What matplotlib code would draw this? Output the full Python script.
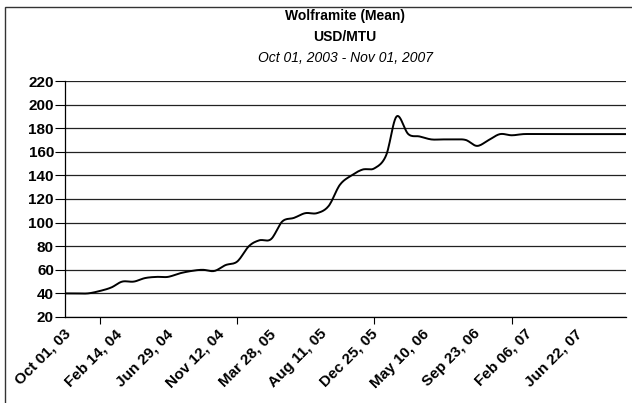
import datetime as dt
import numpy as np
import matplotlib
matplotlib.use("Agg")
import matplotlib.pyplot as plt
import matplotlib.dates as mdates
import matplotlib.transforms as mtransforms
from matplotlib.patches import Rectangle

plt.rcParams['font.family'] = ['Liberation Sans', 'DejaVu Sans']

# monthly mean price, Oct 2003 .. Nov 2007 (USD/MTU)
months = [dt.date(2003 + (9 + i) // 12, (9 + i) % 12 + 1, 1) for i in range(50)]
prices = [40, 40, 40, 42, 45, 50, 50, 53, 54, 54,
          57, 59, 60, 59, 64, 67, 80, 85, 86, 101,
          104, 108, 108, 114, 132, 140, 145, 146, 157, 190,
          175, 173, 170.5, 170.5, 170.5, 170, 165, 170, 175, 174,
          175, 175, 175, 175, 175, 175, 175, 175, 175, 175]

label_dates = [dt.date(2003, 10, 1) + dt.timedelta(days=136 * k) for k in range(11)]
year_ticks = [dt.date(y, 1, 1) for y in (2004, 2005, 2006, 2007)]
y_ticks = list(range(20, 221, 20))


# smooth line through the points (catmull-rom, like a spreadsheet "smoothed line")
def smooth(x, y, n=12):
    x = np.asarray(x, float)
    y = np.asarray(y, float)
    px = np.concatenate([[x[0]], x, [x[-1]]])
    py = np.concatenate([[y[0]], y, [y[-1]]])
    xs, ys = [], []
    t = np.linspace(0, 1, n, endpoint=False)
    for i in range(1, len(px) - 2):
        for p, out in ((px, xs), (py, ys)):
            p0, p1, p2, p3 = p[i - 1], p[i], p[i + 1], p[i + 2]
            out.append(0.5 * (2 * p1 + (-p0 + p2) * t
                              + (2 * p0 - 5 * p1 + 4 * p2 - p3) * t ** 2
                              + (-p0 + 3 * p1 - 3 * p2 + p3) * t ** 3))
    xs.append([x[-1]])
    ys.append([y[-1]])
    return np.concatenate(xs), np.concatenate(ys)


fig = plt.figure(figsize=(6.32, 4.03), dpi=100)
ax = fig.add_axes([65 / 632, 1 - 317 / 403, 561 / 632, 236 / 403])

xn = mdates.date2num(months)
sx, sy = smooth(xn, prices)
ax.plot(sx, sy, color='black', lw=1.4, zorder=3)

ax.set_xlim(mdates.date2num(dt.date(2003, 10, 1)), mdates.date2num(dt.date(2007, 11, 1)))
ax.set_ylim(20, 220)
ax.set_yticks(y_ticks)
ax.yaxis.grid(True, color='#222222', lw=0.9)
ax.set_axisbelow(True)
for lab in ax.get_yticklabels():
    lab.set_fontweight('bold')
ax.tick_params(axis='y', direction='out', length=7, width=0.8, labelsize=11, pad=1)

ax.set_xticks(mdates.date2num(year_ticks))
ax.set_xticklabels([])
ax.tick_params(axis='x', which='major', direction='out', length=5, width=0.8)
ax.set_xticks(mdates.date2num(label_dates), minor=True)
ax.set_xticklabels([d.strftime('%b %d, %y') for d in label_dates], minor=True,
                   rotation=45, ha='right', rotation_mode='anchor',
                   fontsize=11, fontweight='bold')
ax.tick_params(axis='x', which='minor', length=0, pad=7)
shift = mtransforms.ScaledTranslation(-1 / 100, 0, fig.dpi_scale_trans)
for lab in ax.get_xticklabels(minor=True):
    lab.set_transform(lab.get_transform() + shift)

for s in ('top', 'right'):
    ax.spines[s].set_visible(False)
ax.spines['left'].set_linewidth(0.9)
ax.spines['bottom'].set_linewidth(0.9)

cx = 345 / 632
fig.text(cx, 1 - 16 / 403, 'Wolframite (Mean)', ha='center', va='center', fontsize=10, fontweight='bold')
fig.text(cx, 1 - 37 / 403, 'USD/MTU', ha='center', va='center', fontsize=10, fontweight='bold')
fig.text(cx, 1 - 58 / 403, 'Oct 01, 2003 - Nov 01, 2007', ha='center', va='center',
         fontsize=10, style='italic')

fig.patches.append(Rectangle((5 / 632, -0.05), 1.1, 1 - 7 / 403 + 0.05, transform=fig.transFigure,
                             fill=False, edgecolor='#333333', lw=1))

fig.savefig('out.png', dpi=100)
